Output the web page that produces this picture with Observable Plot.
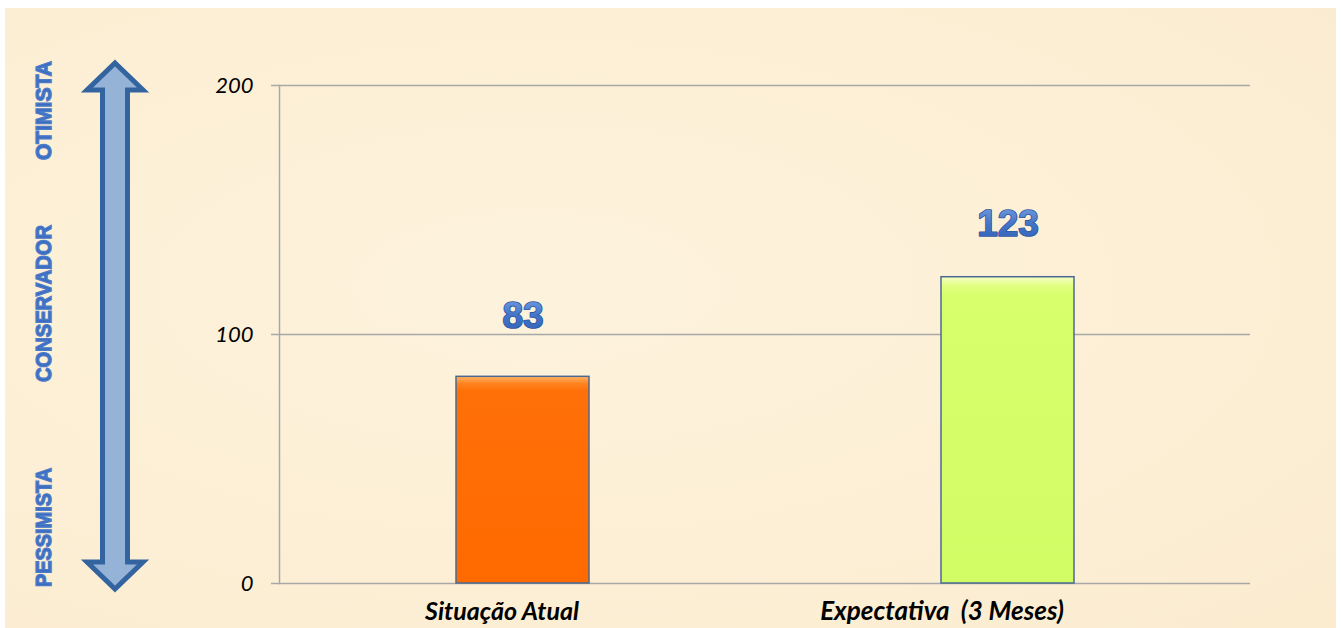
<!DOCTYPE html>
<html>
<head>
<meta charset="utf-8">
<script src="https://cdn.jsdelivr.net/npm/d3@7"></script>
<script src="https://cdn.jsdelivr.net/npm/@observablehq/plot@0.6"></script>
<style>
  html, body { margin: 0; padding: 0; background: #ffffff; }
  #wrap { position: relative; width: 1341px; height: 628px; overflow: hidden; }
  #paper { position: absolute; left: 5px; top: 8px; width: 1331px; height: 620px;
           background: radial-gradient(ellipse at 40% 45%, #fdf2dc 0%, #fcefd5 60%, #fbecd0 100%); }
  #chart { position: absolute; left: 0; top: 0; }
</style>
</head>
<body>
<div id="wrap"><div id="paper"></div><div id="chart"></div></div>
<script>
const categories = ["Situação Atual", "Expectativa  (3 Meses)"];
const values = [83, 123];
const yTicks = [0, 100, 200];
const scaleLabels = ["OTIMISTA", "CONSERVADOR", "PESSIMISTA"];

const rows = categories.map((c, i) => ({cat: c, value: values[i]}));

const font = "Lato, 'Open Sans', sans-serif";
const grid = "#A8A8A8";

const svg = Plot.plot({
  width: 1341,
  height: 628,
  marginLeft: 279,
  marginRight: 91,
  marginTop: 85,
  marginBottom: 45,
  style: {background: "transparent", overflow: "visible"},
  x: {domain: categories, paddingInner: 0.726, paddingOuter: 0.363, axis: null},
  y: {domain: [0, 200], axis: null},
  marks: [
    Plot.ruleY(yTicks.filter(t => t > 0), {stroke: grid, strokeWidth: 1.5}),
    Plot.ruleY([0], {stroke: grid, strokeWidth: 1.5}),
    Plot.frame({anchor: "left", stroke: grid, strokeWidth: 1.5}),
    Plot.axisY({ticks: yTicks, tickSize: 8, tickPadding: 18, stroke: grid, strokeWidth: 1.5, label: null,
      fill: "#000", fontSize: 22, fontStyle: "italic", fontFamily: font, tickFormat: d => String(d)}),
    Plot.barY([rows[0]], {x: "cat", y: "value", fill: "url(#gOrange)", stroke: "#4B6990", strokeWidth: 1.5}),
    Plot.barY([rows[1]], {x: "cat", y: "value", fill: "url(#gGreen)", stroke: "#4B6990", strokeWidth: 1.5}),
    Plot.text([rows[0]], {x: "cat", y: "value", text: d => String(d.value), lineAnchor: "bottom", dy: -49,
      fontSize: 37, fontWeight: "bold", fontFamily: "'Liberation Sans', Arial, sans-serif",
      fill: "url(#gText)", stroke: "#2B56A0", strokeWidth: 1.6}),
    Plot.text([rows[1]], {x: "cat", y: "value", text: d => String(d.value), lineAnchor: "bottom", dy: -41,
      fontSize: 37, fontWeight: "bold", fontFamily: "'Liberation Sans', Arial, sans-serif",
      fill: "url(#gText)", stroke: "#2B56A0", strokeWidth: 1.6}),
    Plot.text([rows[0]], {x: "cat", y: 0, text: "cat", lineAnchor: "bottom", dy: 36, dx: -21,
      fontSize: 25, fontWeight: "bold", fontStyle: "italic", fontFamily: font, fill: "#000"}),
    Plot.text([rows[1]], {x: "cat", y: 0, text: "cat", lineAnchor: "bottom", dy: 36, dx: -66,
      fontSize: 26, fontWeight: "bold", fontStyle: "italic", fontFamily: font, fill: "#000"})
  ]
});

const s = d3.select(svg);
const defs = s.insert("defs", ":first-child");
function grad(id, stops) {
  const g = defs.append("linearGradient").attr("id", id).attr("x1", 0).attr("y1", 0).attr("x2", 0).attr("y2", 1);
  stops.forEach(([o, c]) => g.append("stop").attr("offset", o).attr("stop-color", c));
}
grad("gOrange", [[0, "#FFB466"], [0.035, "#FF8420"], [0.07, "#FF7008"], [1, "#FF6A00"]]);
grad("gGreen", [[0, "#F6FFC8"], [0.03, "#E2FF80"], [0.06, "#D8FF6C"], [1, "#D2FC64"]]);
grad("gText", [[0, "#79A2E2"], [0.5, "#4575C8"], [1, "#3060B4"]]);

// decorative double-headed arrow
const cx = 115;
const pts = [
  [cx, 63], [cx + 28, 90], [cx + 12.5, 90], [cx + 12.5, 562], [cx + 28, 562],
  [cx, 589], [cx - 28, 562], [cx - 12.5, 562], [cx - 12.5, 90], [cx - 28, 90]
];
s.append("polygon")
  .attr("points", pts.map(p => p.join(",")).join(" "))
  .attr("fill", "#95B3D7").attr("stroke", "#33649F").attr("stroke-width", 5)
  .attr("stroke-linejoin", "miter");

// rotated scale labels
const labelPos = [[110.5, 99], [303.5, 157], [527.5, 119]];
scaleLabels.forEach((t, i) => {
  s.append("text")
    .attr("transform", `translate(43,${labelPos[i][0]}) rotate(-90)`)
    .attr("text-anchor", "middle").attr("dy", "0.36em")
    .attr("font-family", "'Liberation Sans', Arial, sans-serif")
    .attr("font-weight", "bold").attr("font-size", 22)
    .attr("textLength", labelPos[i][1]).attr("lengthAdjust", "spacingAndGlyphs")
    .attr("fill", "#3A6BC0").attr("stroke", "#4C7BC8").attr("stroke-width", 1.4)
    .text(t);
});

document.getElementById("chart").appendChild(svg);
</script>
</body>
</html>
